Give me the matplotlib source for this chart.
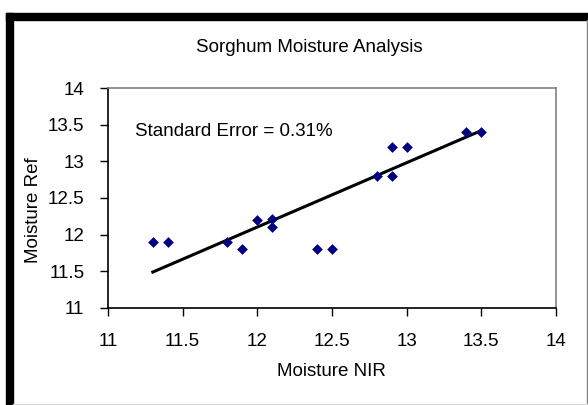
import matplotlib
matplotlib.use("Agg")
import matplotlib.pyplot as plt
from matplotlib.patches import Rectangle
from matplotlib.lines import Line2D
from matplotlib import font_manager

plt.rcParams['font.family'] = ['Liberation Sans', 'DejaVu Sans']

# Data
nir = [11.3, 11.4, 11.8, 11.9, 12.0, 12.1, 12.1, 12.4, 12.5, 12.8, 12.9, 12.9, 13.0, 13.4, 13.5]
ref = [11.9, 11.9, 11.9, 11.8, 12.2, 12.22, 12.1, 11.8, 11.8, 12.8, 13.2, 12.8, 13.2, 13.4, 13.4]
trend_x = [11.3, 13.5]
trend_y = [11.49, 13.42]
ticks = [11, 11.5, 12, 12.5, 13, 13.5, 14]
tick_labels = ['11', '11.5', '12', '12.5', '13', '13.5', '14']

W, H = 588, 405
fig = plt.figure(figsize=(W / 100, H / 100), dpi=100)

def fx(px):
    return px / W

def fy(py):
    return 1 - py / H

# Frame: thick black top/left, thin gray right/bottom
fig.patches.append(Rectangle((fx(6), fy(20)), fx(588 - 6), fy(13) - fy(20),
                             transform=fig.transFigure, color='black', zorder=0))
fig.patches.append(Rectangle((fx(6), 0), fx(7), fy(13),
                             transform=fig.transFigure, color='black', zorder=0))
fig.lines.append(Line2D([fx(587), fx(587)], [fy(20), 0], transform=fig.transFigure,
                        color='#808080', lw=1))
fig.lines.append(Line2D([fx(13), fx(587)], [fy(404), fy(404)], transform=fig.transFigure,
                        color='#d8d8d8', lw=1))

left, right, top, bottom = 108, 556, 88, 308
ax = fig.add_axes([fx(left), fy(bottom), fx(right - left), fy(top) - fy(bottom)])

ax.scatter(nir, ref, marker='D', s=30, color='#000080', zorder=3, linewidths=0)
ax.plot(trend_x, trend_y, color='black', lw=2.2, zorder=2)

ax.set_xlim(11, 14)
ax.set_ylim(11, 14)
ax.set_xticks(ticks)
ax.set_xticklabels(tick_labels)
ax.set_yticks(ticks)
ax.set_yticklabels(tick_labels)

for s in ['top', 'right']:
    ax.spines[s].set_color('#808080')
    ax.spines[s].set_linewidth(1.2)
for s in ['left', 'bottom']:
    ax.spines[s].set_color('black')
    ax.spines[s].set_linewidth(1.2)

ax.tick_params(direction='out', length=6, width=1, labelsize=13.5, colors='black')
ax.tick_params(axis='x', pad=12)
ax.tick_params(axis='y', pad=11)

ax.set_xlabel('Moisture NIR', fontsize=13.5)
ax.xaxis.set_label_coords((331 - left) / (right - left), (bottom - 372) / (bottom - top))
ax.xaxis.label.set_va('center')

installed = {f.name for f in font_manager.fontManager.ttflist}
ylab_family = ['Liberation Sans Narrow', 'Liberation Sans'] if 'Liberation Sans Narrow' in installed else ['Liberation Sans']
ax.set_ylabel('Moisture Ref', fontsize=13.5, family=ylab_family)
ax.yaxis.set_label_coords((33.5 - left) / (right - left), (bottom - 210.5) / (bottom - top))
ax.yaxis.label.set_va('center')

ax.text(11.18, 13.4, 'Standard Error = 0.31%', fontsize=13.5, ha='left', va='center')

fig.text(fx(309), fy(48), 'Sorghum Moisture Analysis', fontsize=13.5, ha='center', va='center')

fig.savefig('out.png', dpi=100)
